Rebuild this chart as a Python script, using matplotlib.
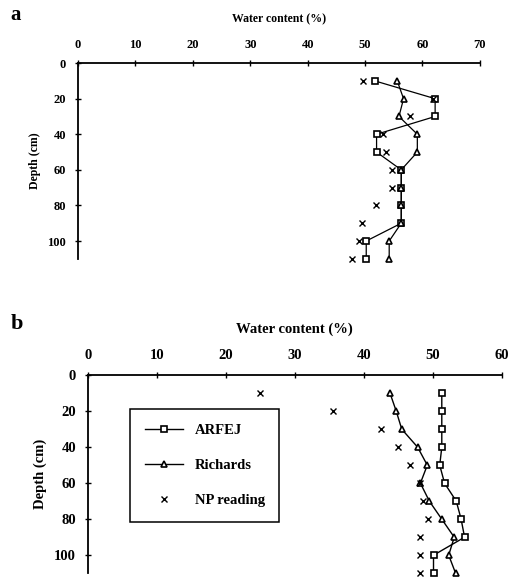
import numpy as np
import matplotlib
matplotlib.use('Agg')
from matplotlib import pyplot as plt

plt.rcParams['font.family'] = ['Liberation Serif', 'DejaVu Serif']
plt.rcParams['font.weight'] = 'bold'

# depths (cm)
depth = [10, 20, 30, 40, 50, 60, 70, 80, 90, 100, 110]

# panel a
a_arfej = [51.7, 62.2, 62.2, 52.0, 52.0, 56.3, 56.3, 56.3, 56.3, 50.2, 50.2]
a_richards = [55.6, 56.7, 55.9, 59.1, 59.1, 56.3, 56.3, 56.3, 56.3, 54.2, 54.2]
a_np = [49.6, 61.9, 57.8, 53.1, 53.7, 54.7, 54.7, 51.9, 49.5, 49.0, 47.8]

# panel b
b_arfej = [51.3, 51.3, 51.3, 51.3, 51.0, 51.7, 53.4, 54.1, 54.6, 50.1, 50.1]
b_richards = [43.8, 44.7, 45.5, 47.8, 49.2, 48.2, 49.5, 51.3, 53.1, 52.3, 53.3]
b_np = [24.9, 35.5, 42.5, 44.9, 46.7, 48.2, 48.6, 49.3, 48.1, 48.2, 48.1]

fig = plt.figure(figsize=(5.1, 5.79), dpi=100)


def style_axes(ax, xmax, fs_tick, fs_lab, pad_x):
    ax.set_xlim(0, xmax)
    ax.set_ylim(110, 0)
    ax.xaxis.tick_top()
    ax.xaxis.set_label_position('top')
    ax.set_xticks(np.arange(0, xmax + 1, 10))
    ax.set_yticks(np.arange(0, 101, 20))
    for s in ['right', 'bottom']:
        ax.spines[s].set_visible(False)
    for s in ['top', 'left']:
        ax.spines[s].set_linewidth(1.3)
    ax.tick_params(axis='x', direction='inout', length=5, width=1, pad=pad_x, labelsize=fs_tick)
    ax.tick_params(axis='y', direction='inout', length=5, width=1, pad=6, labelsize=fs_tick)
    for t in ax.get_xticklabels() + ax.get_yticklabels():
        t.set_fontweight('bold')
    ax.set_ylabel('Depth (cm)', fontsize=fs_lab, fontweight='bold', labelpad=5)


# a
ax1 = fig.add_axes([0.153, 0.553, 0.788, 0.338])
style_axes(ax1, 70, 9, 8.5, 6)
ax1.set_xlabel('Water content (%)', fontsize=8.5, fontweight='bold', labelpad=12)
ax1.plot(a_arfej, depth, color='black', lw=0.9, marker='s', ms=4, mfc='white', mec='black', mew=1.2, clip_on=False)
ax1.plot(a_richards, depth, color='black', lw=0.9, marker='^', ms=4.5, mfc='white', mec='black', mew=1.2, clip_on=False)
ax1.plot(a_np, depth, ls='none', marker='x', ms=4, color='black', mew=1, clip_on=False)
fig.text(0.02, 0.965, 'a', fontsize=15, fontweight='bold')

# b
ax2 = fig.add_axes([0.172, 0.010, 0.812, 0.342])
style_axes(ax2, 60, 10.5, 10.5, 7)
ax2.set_xlabel('Water content (%)', fontsize=10.5, fontweight='bold', labelpad=12)
ax2.plot(b_arfej, depth, color='black', lw=1, marker='s', ms=4.5, mfc='white', mec='black', mew=1.2,
         label='ARFEJ', clip_on=False)
ax2.plot(b_richards, depth, color='black', lw=1, marker='^', ms=5, mfc='white', mec='black', mew=1.2,
         label='Richards', clip_on=False)
ax2.plot(b_np, depth, ls='none', marker='x', ms=4.5, color='black', mew=1, label='NP reading', clip_on=False)
fig.text(0.02, 0.432, 'b', fontsize=16)

leg = ax2.legend(loc='upper left', bbox_to_anchor=(0.103, 0.829), fancybox=False, borderaxespad=0,
                 edgecolor='black', fontsize=10.5, labelspacing=1.5, handlelength=2.6,
                 borderpad=1.0, handletextpad=0.8, framealpha=1)
leg.get_frame().set_linewidth(1.1)

plt.savefig('out.png', dpi=100)
